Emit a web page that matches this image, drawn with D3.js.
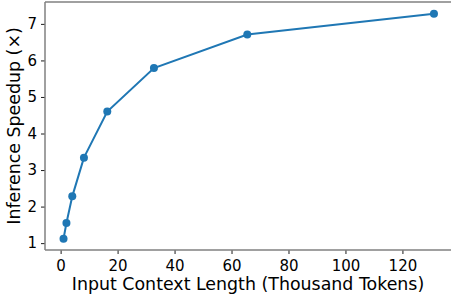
<!DOCTYPE html>
<html>
<head>
<meta charset="utf-8">
<script src="https://cdn.jsdelivr.net/npm/d3@7"></script>
<style>
  body { margin: 0; background: #fff; }
  text { font-family: "DejaVu Sans", sans-serif; fill: #000; }
</style>
</head>
<body>
<svg width="451" height="294"></svg>
<script>
// context length in thousand tokens
var contextLen = [1.024, 2.048, 4.096, 8.192, 16.384, 32.768, 65.536, 131.072];
var speedup = [1.12, 1.55, 2.28, 3.34, 4.60, 5.79, 6.71, 7.28];
var xTicks = [0, 20, 40, 60, 80, 100, 120];
var yTicks = [1, 2, 3, 4, 5, 6, 7];

var svg = d3.select("svg");

var x = d3.scaleLinear().domain([-5.48, 137.58]).range([45, 452.5]);
var y = d3.scaleLinear().domain([0.812, 7.588]).range([250, 2.4]);

var spine = "#808080";

// x axis
var gx = svg.append("g").attr("transform", "translate(0,250)")
    .call(d3.axisBottom(x).tickValues(xTicks).tickSize(4).tickPadding(6).tickFormat(d3.format("d")));
gx.select(".domain").remove();
gx.selectAll(".tick line").attr("stroke", "#000").attr("stroke-width", 0.9);
gx.selectAll(".tick text").attr("font-size", 15).style("font-family", "DejaVu Sans");

// y axis
var gy = svg.append("g").attr("transform", "translate(45,0)")
    .call(d3.axisLeft(y).tickValues(yTicks).tickSize(4).tickPadding(4).tickFormat(d3.format("d")));
gy.select(".domain").remove();
gy.selectAll(".tick line").attr("stroke", "#000").attr("stroke-width", 0.9);
gy.selectAll(".tick text").attr("font-size", 15).style("font-family", "DejaVu Sans");

// spines (right one is off the edge)
svg.append("line").attr("x1", 45).attr("x2", 451).attr("y1", 250).attr("y2", 250)
    .attr("stroke", spine).attr("stroke-width", 1.5);
svg.append("line").attr("x1", 45).attr("x2", 451).attr("y1", 2).attr("y2", 2)
    .attr("stroke", spine).attr("stroke-width", 1.5);
svg.append("line").attr("x1", 45).attr("x2", 45).attr("y1", 2).attr("y2", 250)
    .attr("stroke", spine).attr("stroke-width", 1.5);

var pts = contextLen.map(function(d, i) { return [d, speedup[i]]; });

var line = d3.line()
    .x(function(d) { return x(d[0]); })
    .y(function(d) { return y(d[1]); });

svg.append("path")
    .datum(pts)
    .attr("d", line)
    .attr("fill", "none")
    .attr("stroke", "#1f77b4")
    .attr("stroke-width", 2);

svg.selectAll("circle.pt")
    .data(pts)
    .enter().append("circle")
    .attr("class", "pt")
    .attr("cx", function(d) { return x(d[0]); })
    .attr("cy", function(d) { return y(d[1]); })
    .attr("r", 4)
    .attr("fill", "#1f77b4");

// labels
svg.append("text")
    .attr("x", 248).attr("y", 289.5)
    .attr("text-anchor", "middle")
    .attr("font-size", 17.4)
    .text("Input Context Length (Thousand Tokens)");

svg.append("text")
    .attr("transform", "translate(19.5,126) rotate(-90)")
    .attr("text-anchor", "middle")
    .attr("font-size", 17.4)
    .text("Inference Speedup (×)");
</script>
</body>
</html>
